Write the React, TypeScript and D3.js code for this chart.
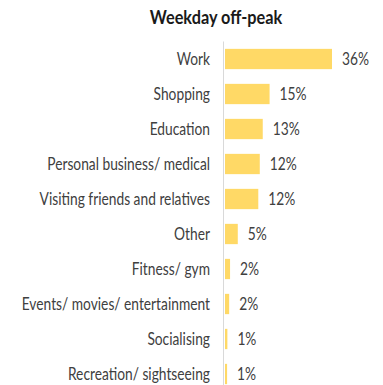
import React from "react";
import * as d3 from "d3";

const title = "Weekday off-peak";
const categories = [
  "Work",
  "Shopping",
  "Education",
  "Personal business/ medical",
  "Visiting friends and relatives",
  "Other",
  "Fitness/ gym",
  "Events/ movies/ entertainment",
  "Socialising",
  "Recreation/ sightseeing",
];
const values = [36, 15, 12.7, 11.7, 11.2, 4.3, 1.7, 1.4, 0.8, 0.7];
const valueLabels = ["36%", "15%", "13%", "12%", "12%", "5%", "2%", "2%", "1%", "1%"];

const W = 383;
const H = 385;
const FONT = "Lato, sans-serif";
const SX = 0.835;

export default function App() {
  const x0 = 225;
  const x = d3.scaleLinear().domain([0, 36]).range([x0, 332]);
  const y = d3
    .scaleBand<string>()
    .domain(categories)
    .range([41.5, 391.5])
    .paddingInner(0.42)
    .paddingOuter(0.21);
  return (
    <svg
      width={W}
      height={H}
      style={{ position: "absolute", left: 0, top: 0, background: "#fff" }}
      fontFamily={FONT}
    >
      <text
        transform={`translate(216,24) scale(${SX},1)`}
        textAnchor="middle"
        fontWeight="bold"
        fontSize={19.5}
        fill="#1a1a1a"
      >
        {title}
      </text>
      <line x1={223.5} x2={223.5} y1={41.5} y2={H} stroke="#d9d9d9" strokeWidth={1} />
      {categories.map((c, i) => {
        const by = y(c)!;
        const bh = y.bandwidth();
        const cy = by + bh / 2;
        return (
          <g key={c}>
            <rect x={x(0)} y={by} width={x(values[i]) - x(0)} height={bh} fill="#FFD966" />
            <text
              transform={`translate(210,${cy}) scale(${SX},1)`}
              dy="0.36em"
              textAnchor="end"
              fontSize={16.5}
              fill="#404040"
            >
              {c}
            </text>
            <text
              transform={`translate(${x(values[i]) + 10},${cy}) scale(${SX},1)`}
              dy="0.36em"
              fontSize={16.5}
              fill="#404040"
            >
              {valueLabels[i]}
            </text>
          </g>
        );
      })}
    </svg>
  );
}
